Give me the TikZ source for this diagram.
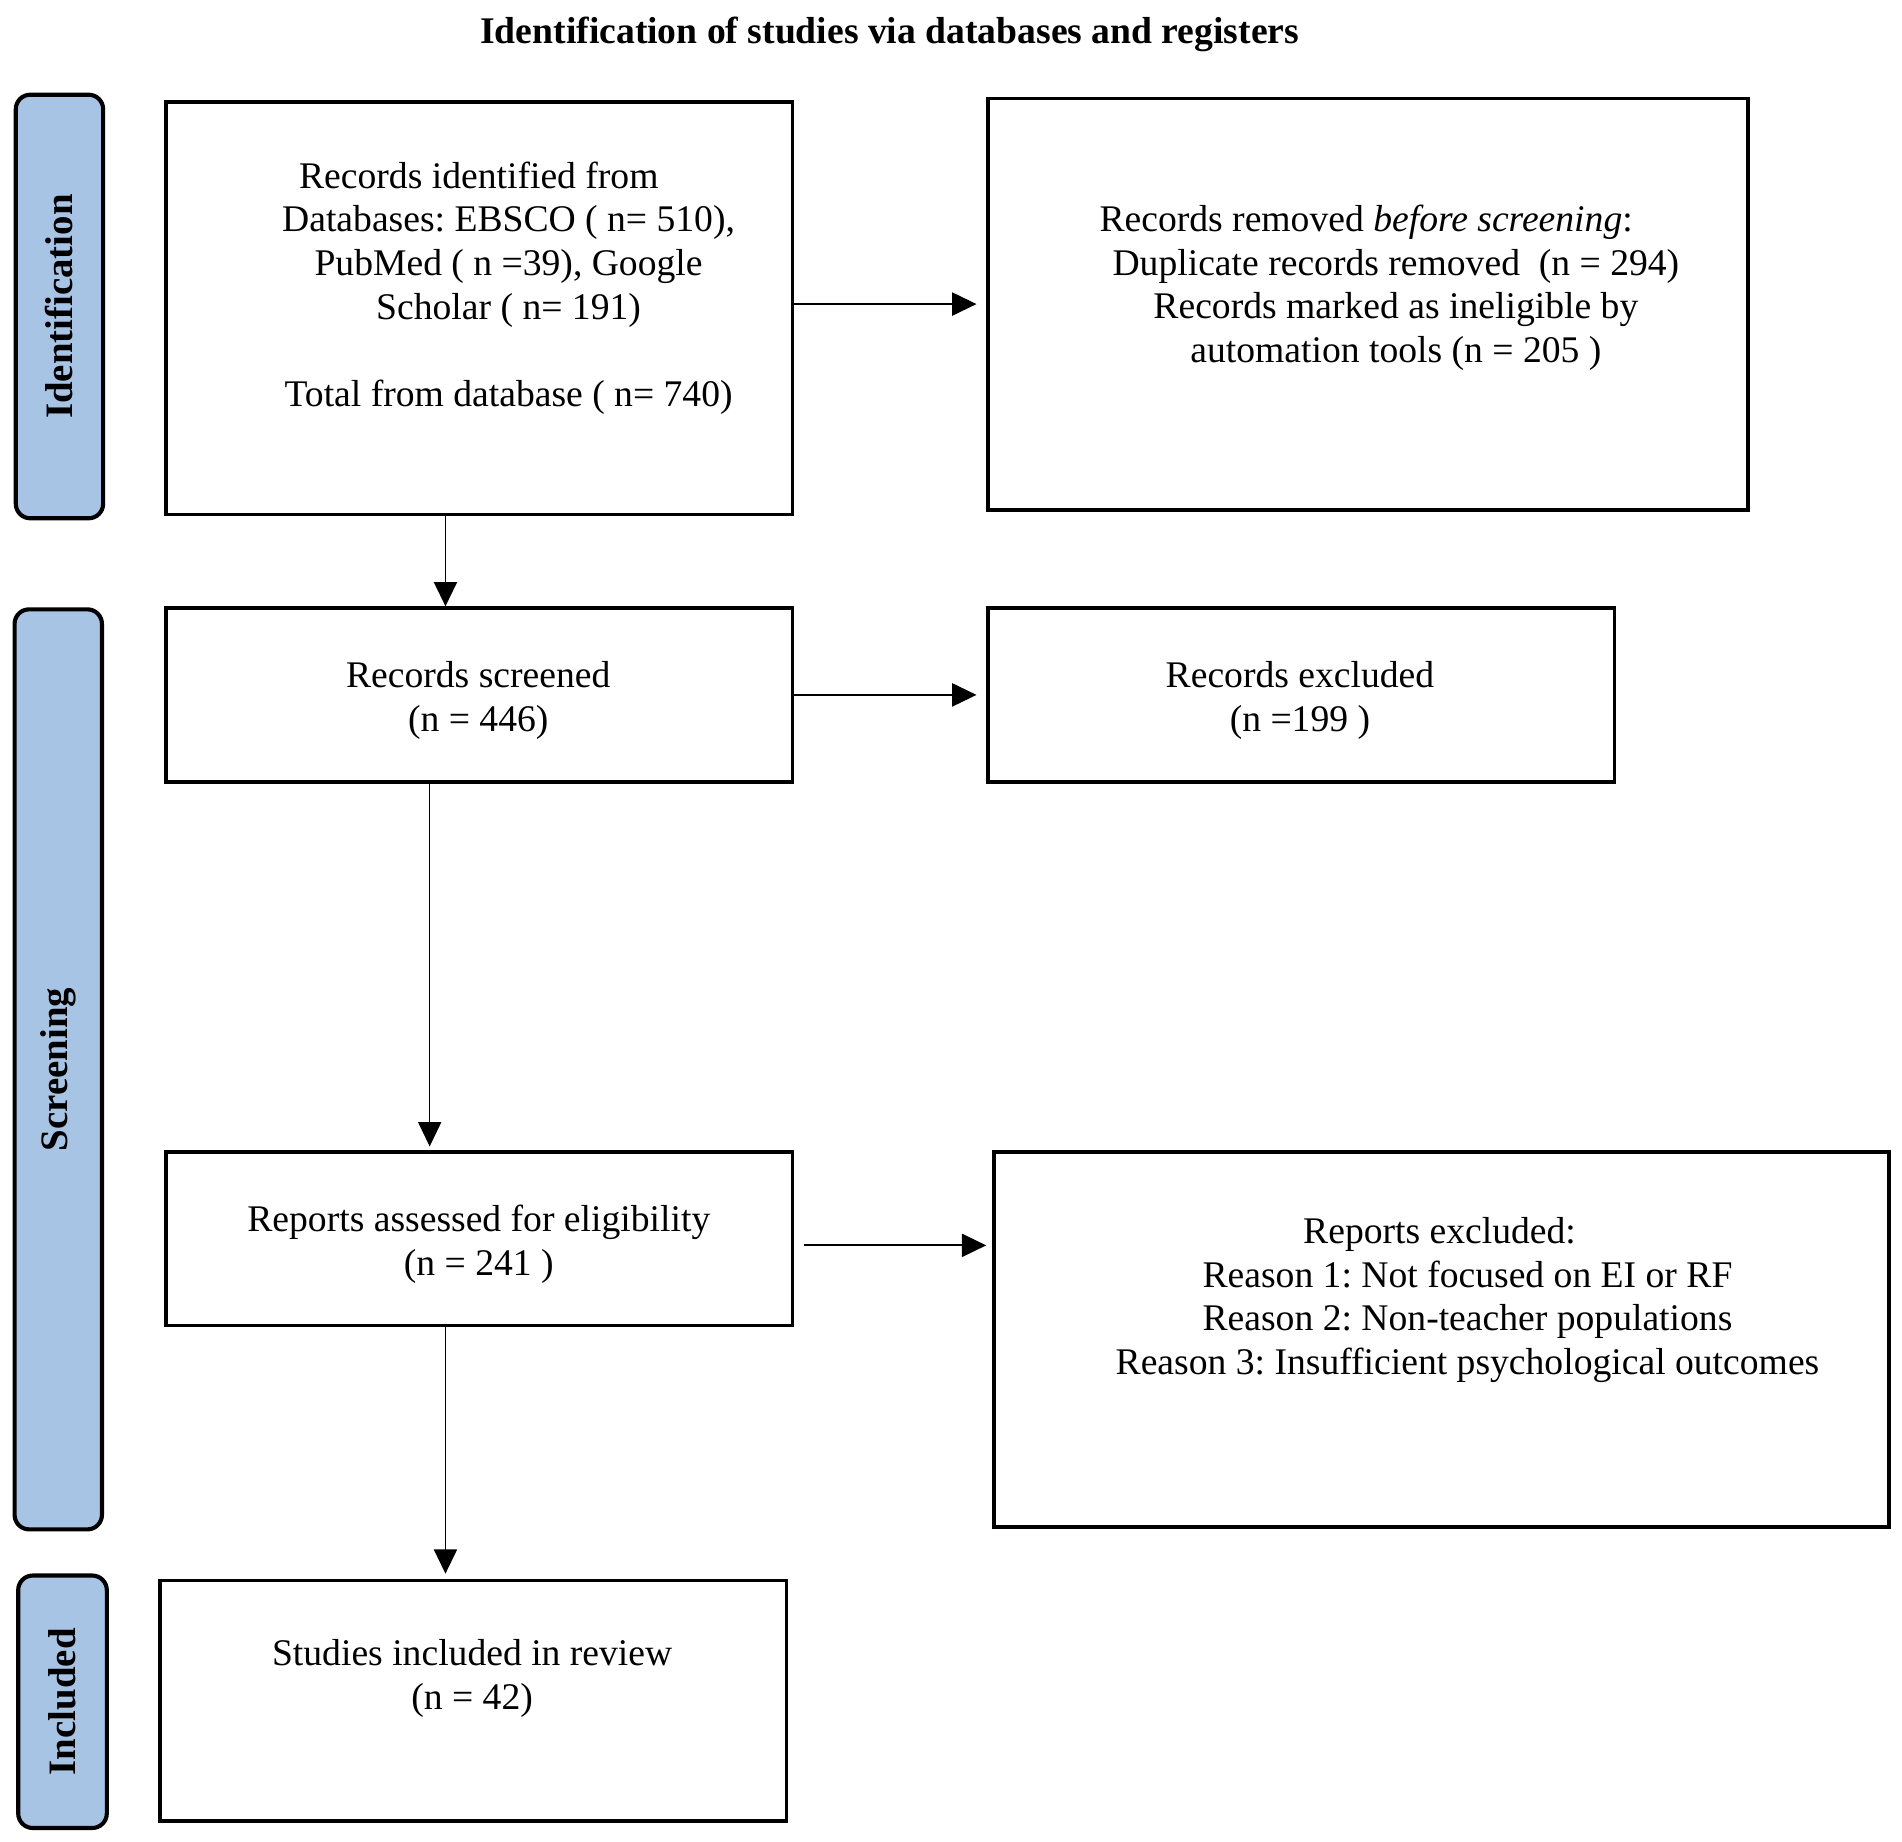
\documentclass[tikz,border=0pt]{standalone}
\usepackage{fontspec}
\setmainfont{Liberation Serif}
\usetikzlibrary{arrows.meta}
\definecolor{sideblue}{HTML}{A8C4E4}
\frenchspacing
\tikzset{
  box/.style={draw=black, line width=1.5pt, fill=white, rectangle, inner sep=0pt},
  side/.style={draw=black, line width=1.7pt, fill=sideblue, rounded corners=6pt, inner sep=0pt},
  txt/.style={align=center, inner sep=0pt, font=\fontsize{15.5}{18}\selectfont},
  sidetxt/.style={rotate=90, inner sep=0pt, font=\fontsize{16}{18}\selectfont\bfseries},
  arr/.style={draw=black, line width=0.75pt, -{Triangle[length=10pt,width=9.5pt]}},
  arrthin/.style={draw=black, line width=0.5pt, -{Triangle[length=10pt,width=9.5pt]}}
}
\begin{document}
\begin{tikzpicture}[x=0.5pt,y=-0.5pt]
\useasboundingbox[fill=white] (0,0) rectangle (1567,1517.5);

% title
\node[txt, font=\fontsize{15.5}{18}\selectfont\bfseries] (title) at (733,28) {Identification of studies via databases and registers};

% side labels
\node[side, minimum width=36pt, minimum height=174.5pt] (s1) at (49,252.5) {};
\node[sidetxt] (s1t) at (s1.center) {Identification};
\node[side, minimum width=36pt, minimum height=379pt] (s2) at (48,881) {};
\node[sidetxt] (s2t) at (s2.center) {Screening};
\node[side, minimum width=36.5pt, minimum height=104pt] (s3) at (51.5,1402) {};
\node[sidetxt] (s3t) at (s3.center) {Included};

% boxes
\node[box, minimum width=258pt, minimum height=170pt] (b1) at (395,254) {};
\node[box, minimum width=313pt, minimum height=169.5pt] (b2) at (1127,250.5) {};
\node[box, minimum width=258pt, minimum height=71.5pt] (b3) at (395,572.5) {};
\node[box, minimum width=258pt, minimum height=71.5pt] (b4) at (1072,572.5) {};
\node[box, minimum width=258pt, minimum height=71.5pt] (b5) at (395,1020.5) {};
\node[box, minimum width=368.5pt, minimum height=154.5pt] (b6) at (1187.5,1103.5) {};
\node[box, minimum width=258pt, minimum height=99pt] (b7) at (390,1401) {};

% texts
\node[txt] (t1) at (419,237.5) {Records identified from\kern24.5pt\\
Databases: EBSCO ( n= 510),\\
PubMed ( n =39), Google\\
Scholar ( n= 191)\\[18pt]
Total from database ( n= 740)};
\node[txt] (t2) at (1150,237) {Records removed \emph{before screening}:\kern24.5pt\\
Duplicate records removed~~(n = 294)\\
Records marked as ineligible by\\
automation tools (n = 205 )};
\node[txt] (t3) at (394,577) {Records screened\\(n = 446)};
\node[txt] (t4) at (1071,577) {Records excluded\\(n =199 )};
\node[txt] (t5) at (394.5,1025) {Reports assessed for eligibility\\(n = 241 )};
\node[txt] (t6) at (1209,1071) {Reports excluded:\kern23pt\\
Reason 1: Not focused on EI or RF\\
Reason 2: Non-teacher populations\\
Reason 3: Insufficient psychological outcomes};
\node[txt] (t7) at (389,1383) {Studies included in review\\(n = 42)};

% connectors
\draw[arr, shorten >=4pt] (b1.east |- b2.west) -- (b2.west);
\draw[arr] ([xshift=-14pt]b1.south) -- ([xshift=-14pt]b3.north);
\draw[arr, shorten >=4pt] (b3.east) -- (b4.west);
\draw[arrthin, shorten >=1.5pt] ([xshift=-20.5pt]b3.south) -- ([xshift=-20.5pt]b5.north);
\coordinate (c5) at ([xshift=4pt,yshift=-2.75pt]b5.east);
\draw[arr, shorten >=2.5pt] (c5) -- (c5 -| b6.west);
\draw[arr, shorten >=2pt] ([xshift=-14pt]b5.south) -- ([xshift=-11.5pt]b7.north);
\end{tikzpicture}
\end{document}
